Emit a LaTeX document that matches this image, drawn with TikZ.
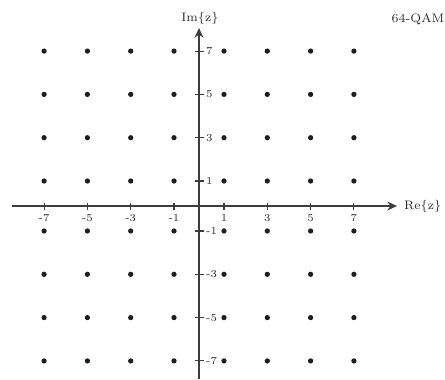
\documentclass[tikz,border=0pt]{standalone}
\usetikzlibrary{arrows.meta}
\definecolor{cAxis}{HTML}{3C3C3C}
\definecolor{cDot}{HTML}{1E1E1E}
\definecolor{cText}{HTML}{2A2A2A}
\tikzset{
  axisline/.style={
    draw=cAxis, line width=1pt,
    -{Stealth[length=5.5pt, width=5pt]},
  },
  tickmark/.style={draw=cAxis, line width=0.6pt},
  ticknum/.style={font=\fontsize{6}{7}\selectfont, text=cText, inner sep=1pt},
  axislabel/.style={font=\scriptsize, text=cText, inner sep=1pt},
  symdot/.style={circle, fill=cDot, inner sep=0pt, minimum size=3pt},
}
\begin{document}
\begin{tikzpicture}[x=0.02cm, y=0.02cm]

  \useasboundingbox (-199,-173) rectangle (246,206);

  % Axis end points
  \coordinate (reL) at (-187,0);
  \coordinate (reR) at (198,0);
  \coordinate (imB) at (0,-173);
  \coordinate (imT) at (0,178);

  % Axes
  \draw[axisline] (reL) -- (reR);
  \draw[axisline] (imB) -- (imT);
  \node[axislabel, anchor=west] (relabel) at (203,0) {Re\{z\}};
  \node[axislabel] (imlabel) at (1,188) {Im\{z\}};
  \node[axislabel] (title) at (219,187) {64-QAM};

  % Ticks and numbers
  \foreach \a/\p in {-7/-154.9, -5/-111.6, -3/-68.3, -1/-25,
                     1/25, 3/68.3, 5/111.6, 7/154.9} {
    \draw[tickmark] (\p,-3.5) -- (\p,3.5);
    \node[ticknum] (xl\a) at (\p,-12) {\a};
    \draw[tickmark] (-4.5,\p) -- (4.5,\p);
    \node[ticknum, anchor=west] (yl\a) at (5,\p) {\a};
  }

  % Constellation points
  \foreach \a/\p in {-7/-154.9, -5/-111.6, -3/-68.3, -1/-25,
                     1/25, 3/68.3, 5/111.6, 7/154.9} {
    \foreach \b/\q in {-7/-154.9, -5/-111.6, -3/-68.3, -1/-25,
                       1/25, 3/68.3, 5/111.6, 7/154.9} {
      \node[symdot] (s\a\b) at (\p,\q) {};
    }
  }

\end{tikzpicture}
\end{document}
